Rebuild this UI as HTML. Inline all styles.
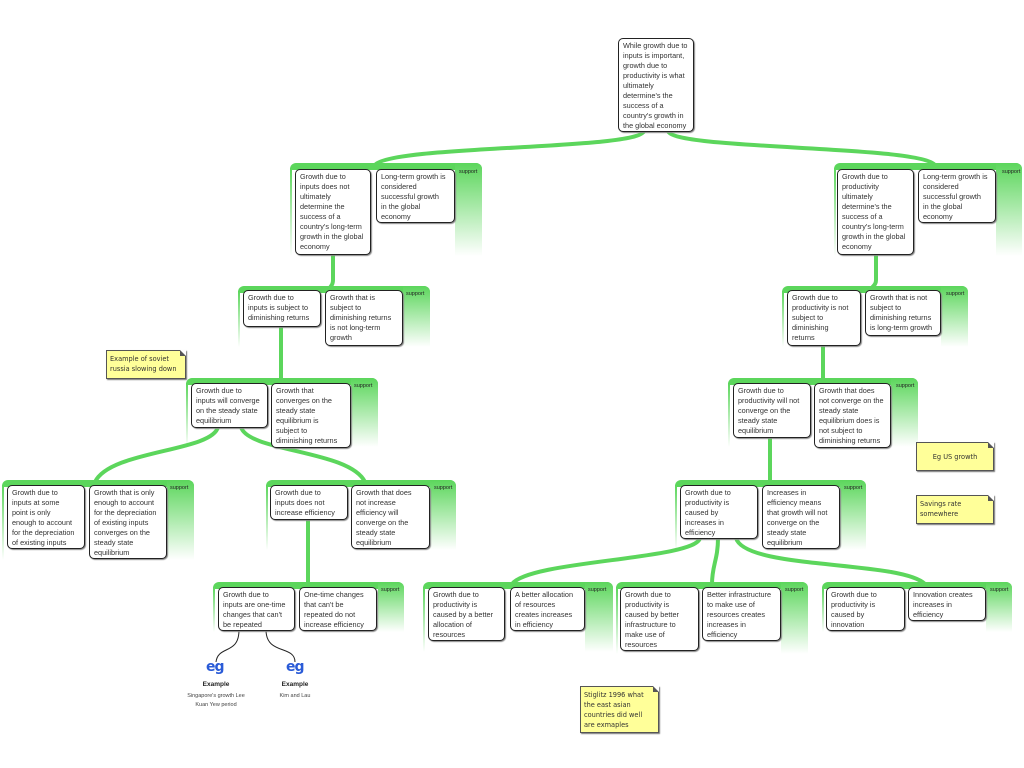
<!DOCTYPE html>
<html><head><meta charset="utf-8"><style>
body{margin:0;width:1024px;height:768px;background:#fff;position:relative;overflow:hidden;font-family:"Liberation Sans",sans-serif}
.n{position:absolute;background:#fff;border:1px solid #222;border-radius:5px;box-shadow:1px 1px 1px #888;font-size:7.3px;line-height:10px;color:#333;padding:2px 2px 2px 4px;box-sizing:border-box;z-index:3;white-space:nowrap;overflow:hidden}
.band{position:absolute;height:7px;background:#5cd65c;border-radius:6px 6px 0 0;z-index:1}
.ll{position:absolute;width:2px;background:linear-gradient(#5cd65c,#fff);z-index:1}
.col{position:absolute;background:linear-gradient(#5cd65c,#fff);border-radius:0 6px 0 0;z-index:1}
.sp{position:absolute;font-size:5.5px;color:#222;z-index:4}
.note{position:absolute;background:#ffff99;border:1px solid #555;box-shadow:1px 1px 1px #777;font-family:"DejaVu Sans",sans-serif;font-size:6.6px;line-height:10px;color:#333;padding:3px 3px;box-sizing:border-box;z-index:3;white-space:nowrap}
.note:after{content:"";position:absolute;right:-1px;top:-1px;border-style:solid;border-width:0 6px 6px 0;border-color:#fff #fff #555 #555}
svg{position:absolute;left:0;top:0;z-index:2}
.eg{position:absolute;font-size:14px;font-weight:bold;color:#2a5bd7;z-index:3;font-family:"DejaVu Sans",sans-serif;letter-spacing:-1px}
.ex{position:absolute;font-size:6.5px;font-weight:bold;color:#222;text-align:center;width:60px}
.et{position:absolute;font-size:5.5px;color:#444;text-align:center;line-height:9px}
</style></head><body>
<svg width="1024" height="768" fill="none" stroke="#5cd65c" stroke-width="4" stroke-linecap="round">
<path d="M644,131 C640,150 390,145 375,165"/>
<path d="M668,131 C672,150 920,145 935,165"/>
<path d="M333,254 L333,280 C333,286 330,286 330,288"/>
<path d="M281,326 L281,380"/>
<path d="M218,427 C212,452 110,450 95,482"/>
<path d="M241,427 C248,452 350,450 365,482"/>
<path d="M308,520 L308,584"/>
<path d="M876,254 L876,280 C876,286 872,286 872,288"/>
<path d="M823,345 L823,380"/>
<path d="M770,437 L770,482"/>
<path d="M700,538 C695,560 530,560 512,584"/>
<path d="M718,538 C718,560 712,565 712,584"/>
<path d="M736,538 C745,570 900,560 925,584"/>
</svg>
<svg width="1024" height="768" fill="none" stroke="#222" stroke-width="1">
<path d="M239,630 C239,655 218,645 216,662"/>
<path d="M266,630 C266,655 295,645 295,662"/>
</svg>

<div class="n" style="left:618px;top:38px;width:76px;height:94px">While growth due to<br>inputs is important,<br>growth due to<br>productivity is what<br>ultimately<br>determine's the<br>success of a<br>country's growth in<br>the global economy</div>

<div class="band" style="left:290px;top:163px;width:192px"></div><div class="ll" style="left:290px;top:168px;height:88px"></div><div class="col" style="left:455px;top:163px;width:27px;height:93px"></div>
<div class="n" style="left:295px;top:169px;width:76px;height:86px">Growth due to<br>inputs does not<br>ultimately<br>determine the<br>success of a<br>country's long-term<br>growth in the global<br>economy</div>
<div class="n" style="left:376px;top:169px;width:79px;height:54px">Long-term growth is<br>considered<br>successful growth<br>in the global<br>economy</div>
<div class="sp" style="left:459px;top:169px">support</div>

<div class="band" style="left:834px;top:163px;width:188px"></div><div class="ll" style="left:834px;top:168px;height:88px"></div><div class="col" style="left:996px;top:163px;width:26px;height:93px"></div>
<div class="n" style="left:837px;top:169px;width:77px;height:86px">Growth due to<br>productivity<br>ultimately<br>determine's the<br>success of a<br>country's long-term<br>growth in the global<br>economy</div>
<div class="n" style="left:918px;top:169px;width:78px;height:54px">Long-term growth is<br>considered<br>successful growth<br>in the global<br>economy</div>
<div class="sp" style="left:1002px;top:169px">support</div>

<div class="band" style="left:238px;top:286px;width:192px"></div><div class="ll" style="left:238px;top:291px;height:56px"></div><div class="col" style="left:403px;top:286px;width:27px;height:61px"></div>
<div class="n" style="left:243px;top:290px;width:78px;height:37px">Growth due to<br>inputs is subject to<br>diminishing returns</div>
<div class="n" style="left:325px;top:290px;width:78px;height:56px">Growth that is<br>subject to<br>diminishing returns<br>is not long-term<br>growth</div>
<div class="sp" style="left:406px;top:291px">support</div>

<div class="band" style="left:782px;top:286px;width:186px"></div><div class="ll" style="left:782px;top:291px;height:56px"></div><div class="col" style="left:941px;top:286px;width:27px;height:61px"></div>
<div class="n" style="left:787px;top:290px;width:74px;height:56px">Growth due to<br>productivity is not<br>subject to<br>diminishing<br>returns</div>
<div class="n" style="left:865px;top:290px;width:76px;height:46px">Growth that is not<br>subject to<br>diminishing returns<br>is long-term growth</div>
<div class="sp" style="left:946px;top:291px">support</div>

<div class="band" style="left:186px;top:378px;width:192px"></div><div class="ll" style="left:186px;top:383px;height:64px"></div><div class="col" style="left:351px;top:378px;width:27px;height:69px"></div>
<div class="n" style="left:191px;top:383px;width:77px;height:45px">Growth due to<br>inputs will converge<br>on the steady state<br>equilibrium</div>
<div class="n" style="left:271px;top:383px;width:80px;height:65px">Growth that<br>converges on the<br>steady state<br>equilibrium is<br>subject to<br>diminishing returns</div>
<div class="sp" style="left:354px;top:383px">support</div>

<div class="band" style="left:728px;top:378px;width:190px"></div><div class="ll" style="left:728px;top:383px;height:64px"></div><div class="col" style="left:891px;top:378px;width:27px;height:69px"></div>
<div class="n" style="left:733px;top:383px;width:78px;height:55px">Growth due to<br>productivity will not<br>converge on the<br>steady state<br>equilibrium</div>
<div class="n" style="left:814px;top:383px;width:77px;height:65px">Growth that does<br>not converge on the<br>steady state<br>equilibrium does is<br>not subject to<br>diminishing returns</div>
<div class="sp" style="left:896px;top:383px">support</div>

<div class="band" style="left:2px;top:480px;width:192px"></div><div class="ll" style="left:2px;top:485px;height:75px"></div><div class="col" style="left:167px;top:480px;width:27px;height:80px"></div>
<div class="n" style="left:7px;top:485px;width:78px;height:64px">Growth due to<br>inputs at some<br>point is only<br>enough to account<br>for the depreciation<br>of existing inputs</div>
<div class="n" style="left:89px;top:485px;width:78px;height:74px">Growth that is only<br>enough to account<br>for the depreciation<br>of existing inputs<br>converges on the<br>steady state<br>equilibrium</div>
<div class="sp" style="left:170px;top:485px">support</div>

<div class="band" style="left:266px;top:480px;width:190px"></div><div class="ll" style="left:266px;top:485px;height:65px"></div><div class="col" style="left:430px;top:480px;width:26px;height:70px"></div>
<div class="n" style="left:270px;top:485px;width:78px;height:35px">Growth due to<br>inputs does not<br>increase efficiency</div>
<div class="n" style="left:351px;top:485px;width:79px;height:64px">Growth that does<br>not increase<br>efficiency will<br>converge on the<br>steady state<br>equilibrium</div>
<div class="sp" style="left:434px;top:485px">support</div>

<div class="band" style="left:675px;top:480px;width:191px"></div><div class="ll" style="left:675px;top:485px;height:65px"></div><div class="col" style="left:840px;top:480px;width:26px;height:70px"></div>
<div class="n" style="left:680px;top:485px;width:78px;height:54px">Growth due to<br>productivity is<br>caused by<br>increases in<br>efficiency</div>
<div class="n" style="left:762px;top:485px;width:78px;height:64px">Increases in<br>efficiency means<br>that growth will not<br>converge on the<br>steady state<br>equilibrium</div>
<div class="sp" style="left:844px;top:485px">support</div>

<div class="band" style="left:213px;top:582px;width:191px"></div><div class="ll" style="left:213px;top:587px;height:45px"></div><div class="col" style="left:378px;top:582px;width:26px;height:50px"></div>
<div class="n" style="left:218px;top:587px;width:77px;height:44px">Growth due to<br>inputs are one-time<br>changes that can't<br>be repeated</div>
<div class="n" style="left:299px;top:587px;width:78px;height:44px">One-time changes<br>that can't be<br>repeated do not<br>increase efficiency</div>
<div class="sp" style="left:381px;top:587px">support</div>

<div class="band" style="left:423px;top:582px;width:190px"></div><div class="ll" style="left:423px;top:587px;height:65px"></div><div class="col" style="left:585px;top:582px;width:28px;height:70px"></div>
<div class="n" style="left:428px;top:587px;width:77px;height:54px">Growth due to<br>productivity is<br>caused by a better<br>allocation of<br>resources</div>
<div class="n" style="left:510px;top:587px;width:75px;height:44px">A better allocation<br>of resources<br>creates increases<br>in efficiency</div>
<div class="sp" style="left:588px;top:587px">support</div>

<div class="band" style="left:616px;top:582px;width:192px"></div><div class="ll" style="left:616px;top:587px;height:67px"></div><div class="col" style="left:781px;top:582px;width:27px;height:72px"></div>
<div class="n" style="left:620px;top:587px;width:79px;height:64px">Growth due to<br>productivity is<br>caused by better<br>infrastructure to<br>make use of<br>resources</div>
<div class="n" style="left:702px;top:587px;width:79px;height:54px">Better infrastructure<br>to make use of<br>resources creates<br>increases in<br>efficiency</div>
<div class="sp" style="left:785px;top:587px">support</div>

<div class="band" style="left:822px;top:582px;width:190px"></div><div class="ll" style="left:822px;top:587px;height:45px"></div><div class="col" style="left:986px;top:582px;width:26px;height:50px"></div>
<div class="n" style="left:826px;top:587px;width:79px;height:44px">Growth due to<br>productivity is<br>caused by<br>innovation</div>
<div class="n" style="left:908px;top:587px;width:78px;height:34px">Innovation creates<br>increases in<br>efficiency</div>
<div class="sp" style="left:990px;top:587px">support</div>

<div class="eg" style="left:206px;top:659px">eg</div>
<div class="ex" style="left:186px;top:681px">Example</div>
<div class="et" style="left:176px;top:692px;width:80px">Singapore's growth Lee<br>Kuan Yew period</div>
<div class="eg" style="left:286px;top:659px">eg</div>
<div class="ex" style="left:265px;top:681px">Example</div>
<div class="et" style="left:255px;top:692px;width:80px">Kim and Lau</div>

<div class="note" style="left:106px;top:350px;width:80px;height:29px">Example of soviet<br>russia slowing down</div>
<div class="note" style="left:916px;top:442px;width:78px;height:29px;text-align:center;padding-top:9px">Eg US growth</div>
<div class="note" style="left:916px;top:495px;width:78px;height:29px">Savings rate<br>somewhere</div>
<div class="note" style="left:580px;top:686px;width:79px;height:47px">Stiglitz 1996 what<br>the east asian<br>countries did well<br>are exmaples</div>
</body></html>
